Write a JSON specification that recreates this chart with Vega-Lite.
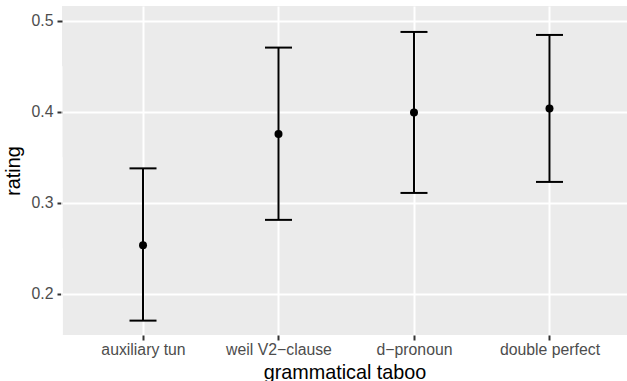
{
  "$schema": "https://vega.github.io/schema/vega-lite/v6.json",
  "width": 565,
  "height": 329,
  "autosize": "none",
  "padding": {"left": 62, "top": 6, "right": 0, "bottom": 46},
  "background": "white",
  "datasets": {
    "est": [
      {"taboo": "auxiliary tun", "rating": 0.2533, "lower": 0.1704, "upper": 0.3377},
      {"taboo": "weil V2\u2212clause", "rating": 0.3754, "lower": 0.2811, "upper": 0.4704},
      {"taboo": "d\u2212pronoun", "rating": 0.3992, "lower": 0.3107, "upper": 0.4876},
      {"taboo": "double perfect", "rating": 0.4035, "lower": 0.3228, "upper": 0.4843}
    ],
    "minor": [{"g": 0.25}, {"g": 0.35}, {"g": 0.45}]
  },
  "config": {
    "view": {"fill": "#EBEBEB", "stroke": null},
    "font": "Liberation Sans",
    "axis": {
      "domain": false,
      "gridColor": "white",
      "gridWidth": 2,
      "tickColor": "#333333",
      "tickSize": 5,
      "tickWidth": 2,
      "labelColor": "#4D4D4D",
      "labelFont": "Liberation Sans",
      "labelFontSize": 15.8,
      "titleFont": "Liberation Sans",
      "titleFontSize": 19.8,
      "titleFontWeight": "normal",
      "titleColor": "black"
    }
  },
  "layer": [
    {
      "data": {"name": "minor"},
      "mark": {"type": "rule", "color": "white", "strokeWidth": 1},
      "encoding": {
        "y": {"field": "g", "type": "quantitative"}
      }
    },
    {
      "data": {"name": "est"},
      "layer": [
        {
          "mark": {"type": "rule", "color": "black", "strokeWidth": 2},
          "encoding": {
            "x": {"field": "taboo", "type": "nominal"},
            "y": {"field": "lower", "type": "quantitative"},
            "y2": {"field": "upper"}
          }
        },
        {
          "mark": {"type": "tick", "color": "black", "size": 27, "thickness": 2, "orient": "horizontal", "opacity": 1},
          "encoding": {
            "x": {"field": "taboo", "type": "nominal"},
            "y": {"field": "lower", "type": "quantitative"}
          }
        },
        {
          "mark": {"type": "tick", "color": "black", "size": 27, "thickness": 2, "orient": "horizontal", "opacity": 1},
          "encoding": {
            "x": {"field": "taboo", "type": "nominal"},
            "y": {"field": "upper", "type": "quantitative"}
          }
        },
        {
          "mark": {"type": "point", "filled": true, "color": "black", "size": 64, "opacity": 1},
          "encoding": {
            "x": {"field": "taboo", "type": "nominal"},
            "y": {"field": "rating", "type": "quantitative"}
          }
        }
      ]
    }
  ],
  "encoding": {
    "x": {
      "field": "taboo",
      "type": "nominal",
      "sort": null,
      "scale": {"type": "point", "domain": ["auxiliary tun", "weil V2\u2212clause", "d\u2212pronoun", "double perfect"], "padding": 0.585, "align": 0.511},
      "axis": {"title": "grammatical taboo", "labelAngle": 0, "labelPadding": 2, "titlePadding": 5.5, "grid": true}
    },
    "y": {
      "type": "quantitative",
      "scale": {"domain": [0.1546, 0.5161], "nice": false, "zero": false},
      "axis": {"title": "rating", "values": [0.2, 0.3, 0.4, 0.5], "format": ".1f", "labelPadding": 4, "titlePadding": 8, "grid": true}
    }
  }
}
